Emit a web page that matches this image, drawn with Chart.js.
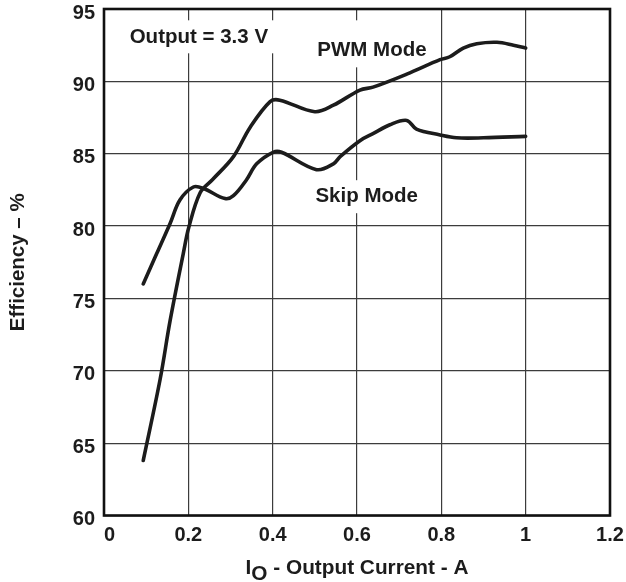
<!DOCTYPE html>
<html>
<head>
<meta charset="utf-8">
<script src="https://cdn.jsdelivr.net/npm/chart.js@4.4.1/dist/chart.umd.min.js"></script>
<style>
html,body{margin:0;padding:0;background:#fff;}
#c{display:block;}
</style>
</head>
<body>
<canvas id="c" width="626" height="582"></canvas>
<script>
// ---- data ----
const pwmX = [0.093,0.133,0.157,0.188,0.201,0.228,0.257,0.307,0.346,0.394,0.417,0.500,0.544,0.607,0.638,0.718,0.797,0.820,0.852,0.884,0.932,0.971,1.000];
const pwmY = [63.8,69.4,73.5,78.1,79.9,82.3,83.2,84.8,86.8,88.6,88.7,87.9,88.35,89.4,89.6,90.5,91.5,91.7,92.3,92.6,92.7,92.5,92.3];
const skipX = [0.093,0.125,0.157,0.180,0.212,0.236,0.287,0.307,0.338,0.362,0.401,0.421,0.504,0.544,0.560,0.607,0.639,0.678,0.718,0.741,0.797,0.836,0.900,1.000];
const skipY = [76.0,78.1,80.2,81.8,82.7,82.6,81.9,82.1,83.2,84.3,85.1,85.1,83.9,84.3,84.8,85.9,86.4,87.0,87.3,86.7,86.3,86.1,86.1,86.2];
const xTickLabels = ['\u20070','0.2','0.4','0.6','0.8','1','1.2'];
const yTickLabels = ['60','65','70','75','80','85','90','95'];
const seriesNames = ['PWM Mode','Skip Mode'];
const noteTexts = ['Output = 3.3 V','PWM Mode','Skip Mode'];
const noteX = [0.225, 0.6355, 0.623];
const noteY = [92.65, 91.73, 81.67];
const yTitle = 'Efficiency \u2013 %';
const xTitleMain = 'I';
const xTitleSub = 'O';
const xTitleRest = ' - Output Current - A';

const INK = '#1c1c1c';
const FONT = '"Liberation Sans", Arial, Helvetica, sans-serif';

function pts(xs, ys){ return xs.map((x,i)=>({x:x, y:ys[i]})); }

const noteBoxes = [ {padX:6, top:-22.7, bottom:10.3}, {padX:6, top:-36, bottom:11}, {padX:6, top:-21.7, bottom:11.3} ];

const decor = {
  id:'decor',
  beforeDatasetsDraw(chart){
    const ctx = chart.ctx, xs = chart.scales.x, ys = chart.scales.y;
    ctx.save();
    ctx.font = 'bold 20.5px ' + FONT;
    ctx.textAlign = 'center';
    ctx.textBaseline = 'alphabetic';
    noteTexts.forEach((t,i)=>{
      const px = xs.getPixelForValue(noteX[i]);
      const py = ys.getPixelForValue(noteY[i]);
      const w = ctx.measureText(t).width;
      const b = noteBoxes[i];
      ctx.fillStyle = '#fff';
      ctx.fillRect(px - w/2 - b.padX, py + b.top, w + 2*b.padX, b.bottom - b.top);
      ctx.fillStyle = INK;
      ctx.fillText(t, px, py);
    });
    ctx.restore();
  },
  afterDraw(chart){
    const ctx = chart.ctx, a = chart.chartArea;
    ctx.save();
    ctx.strokeStyle = '#111';
    ctx.lineWidth = 2.6;
    ctx.strokeRect(a.left, a.top, a.right - a.left, a.bottom - a.top);
    // x axis title with subscript
    ctx.fillStyle = INK;
    ctx.textBaseline = 'alphabetic';
    ctx.textAlign = 'left';
    const f = 'bold 20.8px ' + FONT;
    ctx.font = f;
    const w1 = ctx.measureText(xTitleMain).width;
    const w2 = ctx.measureText(xTitleSub).width;
    const w3 = ctx.measureText(xTitleRest).width;
    const total = w1 + w2 + w3;
    const cx = (a.left + a.right)/2;
    const base = a.bottom + 58;
    let x0 = cx - total/2;
    ctx.fillText(xTitleMain, x0, base);
    ctx.fillText(xTitleSub, x0 + w1, base + 6);
    ctx.fillText(xTitleRest, x0 + w1 + w2, base);
    ctx.restore();
  }
};

new Chart(document.getElementById('c'), {
  type:'line',
  data:{
    datasets:[
      {label:seriesNames[0], data:pts(pwmX,pwmY), borderColor:INK, borderWidth:3.6, pointRadius:0, fill:false, tension:0.35, borderCapStyle:'round', borderJoinStyle:'round'},
      {label:seriesNames[1], data:pts(skipX,skipY), borderColor:INK, borderWidth:3.6, pointRadius:0, fill:false, tension:0.35, borderCapStyle:'round', borderJoinStyle:'round'}
    ]
  },
  options:{
    responsive:false,
    animation:false,
    devicePixelRatio:1,
    layout:{padding:{left:0,right:16,top:9,bottom:0}},
    plugins:{legend:{display:false}, tooltip:{enabled:false}},
    scales:{
      x:{
        type:'linear', min:0, max:1.2,
        border:{display:false},
        grid:{color:'#3c3c3c', lineWidth:1.2, drawTicks:false},
        ticks:{stepSize:0.2, padding:8, color:INK, font:{family:FONT, size:20, weight:'bold'}, maxRotation:0,
          callback:(v,i)=>xTickLabels[i]},
        afterFit:(s)=>{ s.height = 66.5; s.paddingLeft = 0; s.paddingRight = 0; }
      },
      y:{
        type:'linear', min:60, max:95,
        border:{display:false},
        grid:{color:'#3c3c3c', lineWidth:1.2, drawTicks:false},
        ticks:{stepSize:5, padding:9, labelOffset:4, color:INK, font:{family:FONT, size:20, weight:'bold'},
          callback:(v,i)=>yTickLabels[i]},
        title:{display:true, text:yTitle, color:INK, padding:{top:6,bottom:0}, font:{family:FONT, size:20.5, weight:'bold'}},
        afterFit:(s)=>{ s.width = 104; s.paddingTop = 0; s.paddingBottom = 0; }
      }
    }
  },
  plugins:[decor]
});
</script>
</body>
</html>
